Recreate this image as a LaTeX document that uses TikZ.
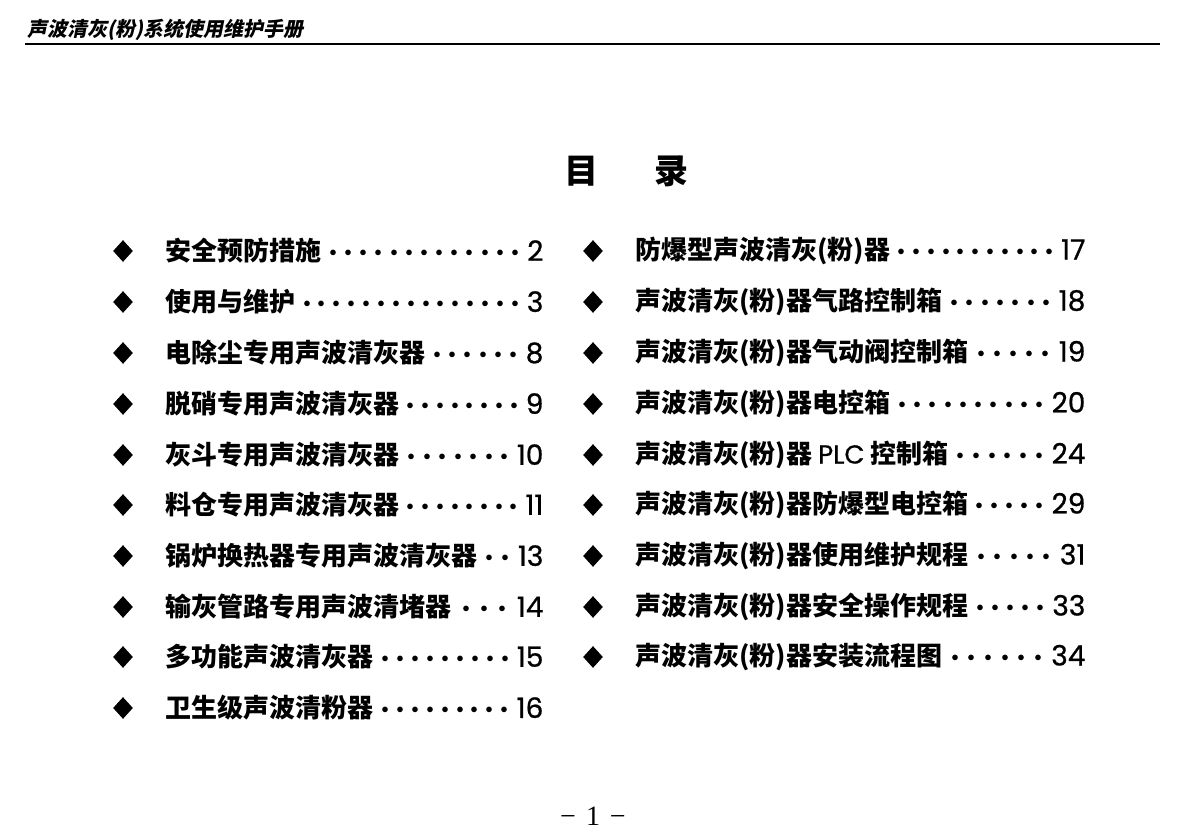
\documentclass[tikz,border=0pt]{standalone}
\usepackage{fontspec}
\setmainfont{Noto Sans CJK SC}
\newfontfamily\headfont[FakeSlant=0.2]{Noto Sans CJK SC}
\newfontfamily\numfont[FakeBold=0.8]{Poppins}
\newfontfamily\pagefont{Liberation Serif}
\usetikzlibrary{shapes.geometric,positioning}

\newcommand{\tocdots}{\xleaders\hbox to 7.25pt{\hss{\fontsize{10}{10}\selectfont\textbullet}\hss}\hfill}
\newcommand{\leftentry}[2]{\hbox to 189pt{#1\hspace{2pt}\tocdots\hspace{2pt}{\numfont\mdseries\fontsize{14}{15}\selectfont #2}}}
\newcommand{\rightentry}[2]{\hbox to 225pt{#1\hspace{2pt}\tocdots\hspace{2pt}{\numfont\mdseries\fontsize{14}{15}\selectfont #2}}}

\begin{document}
\begin{tikzpicture}[x=0.5pt,y=-0.5pt]
    %styles
    \tikzstyle{tocmark}=[diamond,fill=black,inner sep=0pt,minimum width=10pt,minimum height=11pt]
    \tikzstyle{entry}=[anchor=west,inner sep=0pt,font=\bfseries\fontsize{13}{15}\selectfont]
    \useasboundingbox (0,0) rectangle (1180,838);
    %header
    \node[anchor=west,inner sep=0pt,font=\headfont\bfseries\fontsize{10}{12}\selectfont] (head) at (27,30) {声波清灰(粉)系统使用维护手册};
    \draw[line width=1pt] (25,44)--(1160,44);
    \node[font=\bfseries\fontsize{17}{20}\selectfont] (title) at (626,171) {目\hspace{28pt}录};
    %left column
    \node[tocmark] (dl1) at (123,251) {};
    \node[entry] (el1) at (165,251) {\leftentry{安全预防措施}{2}};
    \node[tocmark] (dl2) at (123,302) {};
    \node[entry] (el2) at (165,302) {\leftentry{使用与维护}{3}};
    \node[tocmark] (dl3) at (123,353) {};
    \node[entry] (el3) at (165,353) {\leftentry{电除尘专用声波清灰器}{8}};
    \node[tocmark] (dl4) at (123,404) {};
    \node[entry] (el4) at (165,404) {\leftentry{脱硝专用声波清灰器}{9}};
    \node[tocmark] (dl5) at (123,455) {};
    \node[entry] (el5) at (165,455) {\leftentry{灰斗专用声波清灰器}{10}};
    \node[tocmark] (dl6) at (123,505) {};
    \node[entry] (el6) at (165,505) {\leftentry{料仓专用声波清灰器}{11}};
    \node[tocmark] (dl7) at (123,556) {};
    \node[entry] (el7) at (165,556) {\leftentry{锅炉换热器专用声波清灰器}{13}};
    \node[tocmark] (dl8) at (123,607) {};
    \node[entry] (el8) at (165,607) {\leftentry{输灰管路专用声波清堵器}{14}};
    \node[tocmark] (dl9) at (123,657) {};
    \node[entry] (el9) at (165,657) {\leftentry{多功能声波清灰器}{15}};
    \node[tocmark] (dl10) at (123,708) {};
    \node[entry] (el10) at (165,708) {\leftentry{卫生级声波清粉器}{16}};
    %right column
    \node[tocmark] (dr1) at (593,251) {};
    \node[entry] (er1) at (635,251) {\rightentry{防爆型声波清灰(粉)器}{17}};
    \node[tocmark] (dr2) at (593,302) {};
    \node[entry] (er2) at (635,302) {\rightentry{声波清灰(粉)器气路控制箱}{18}};
    \node[tocmark] (dr3) at (593,353) {};
    \node[entry] (er3) at (635,353) {\rightentry{声波清灰(粉)器气动阀控制箱}{19}};
    \node[tocmark] (dr4) at (593,404) {};
    \node[entry] (er4) at (635,404) {\rightentry{声波清灰(粉)器电控箱}{20}};
    \node[tocmark] (dr5) at (593,455) {};
    \node[entry] (er5) at (635,455) {\rightentry{声波清灰(粉)器 {\numfont\mdseries PLC} 控制箱}{24}};
    \node[tocmark] (dr6) at (593,505) {};
    \node[entry] (er6) at (635,505) {\rightentry{声波清灰(粉)器防爆型电控箱}{29}};
    \node[tocmark] (dr7) at (593,556) {};
    \node[entry] (er7) at (635,556) {\rightentry{声波清灰(粉)器使用维护规程}{31}};
    \node[tocmark] (dr8) at (593,607) {};
    \node[entry] (er8) at (635,607) {\rightentry{声波清灰(粉)器安全操作规程}{33}};
    \node[tocmark] (dr9) at (593,657) {};
    \node[entry] (er9) at (635,657) {\rightentry{声波清灰(粉)器安装流程图}{34}};
    %page number
    \node[font=\pagefont\fontsize{14}{16}\selectfont] (pnum) at (593,816) {−\hspace{5pt}1\hspace{5pt}−};
\end{tikzpicture}
\end{document}
